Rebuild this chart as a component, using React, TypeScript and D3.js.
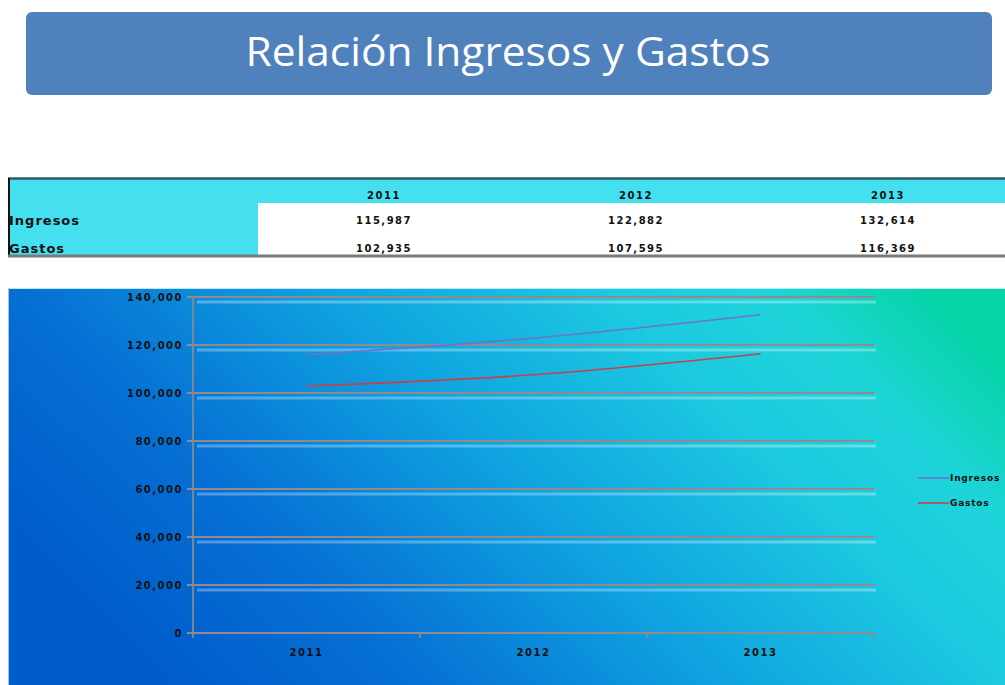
import * as d3 from "d3";

const years = ["2011", "2012", "2013"];
const ingresos = [115987, 122882, 132614];
const gastos = [102935, 107595, 116369];
const yTicks = [0, 20000, 40000, 60000, 80000, 100000, 120000, 140000];

const series = [
  { name: "Ingresos", values: ingresos, color: "#6a74c8" },
  { name: "Gastos", values: gastos, color: "#c8404a" },
];

const fmt = d3.format(",");
const W = 1005;
const H = 685;

// plot area inside the chart block
const plot = { left: 193, right: 874, top: 297, bottom: 633 };

export default function App() {
  const x = d3.scaleBand().domain(years).range([plot.left, plot.right]);
  const y = d3.scaleLinear().domain([0, 140000]).range([plot.bottom, plot.top]);

  const line = d3
    .line<number>()
    .x((_, i) => (x(years[i]) as number) + x.bandwidth() / 2)
    .y((d) => y(d))
    .curve(d3.curveMonotoneX);

  // table columns
  const col = d3.scaleBand().domain(years).range([258, 1014]);

  const smallFont = {
    fontFamily: "DejaVu Sans",
    fontWeight: 700,
    fontSize: 10,
    letterSpacing: 1.5,
  } as const;

  return (
    <svg
      width={W}
      height={H}
      style={{ position: "absolute", left: 0, top: 0, background: "#fff" }}
    >
      <defs>
        <linearGradient id="bg" x1="0" y1="0.6" x2="1" y2="0.2">
          <stop offset="0" stopColor="#005ccb" />
          <stop offset="0.22" stopColor="#0670d4" />
          <stop offset="0.48" stopColor="#0fa2e0" />
          <stop offset="0.72" stopColor="#1cc9e0" />
          <stop offset="0.86" stopColor="#1ed4da" />
          <stop offset="1" stopColor="#06d4a6" />
        </linearGradient>
      </defs>

      {/* title */}
      <rect x={26} y={12} width={966} height={83} rx={6} fill="#4f81bd" />
      <text
        x={508}
        y={66}
        textAnchor="middle"
        fill="#fff"
        fontFamily="Open Sans"
        fontSize={40}
        textLength={525}
        lengthAdjust="spacingAndGlyphs"
      >
        Relación Ingresos y Gastos
      </text>

      {/* table */}
      <rect x={8} y={179} width={W - 8} height={77} fill="#45e0f0" />
      <rect x={258} y={203} width={W - 258} height={52} fill="#fff" />
      <line x1={8} x2={W} y1={178.5} y2={178.5} stroke="#2c5f66" strokeWidth={2.5} />
      <line x1={9} x2={9} y1={178} y2={257} stroke="#111" strokeWidth={2} />
      <line x1={8} x2={W} y1={256} y2={256} stroke="#7a7a7a" strokeWidth={3} />
      {years.map((yr, i) => {
        const cx = (col(yr) as number) + col.bandwidth() / 2;
        return (
          <g key={yr} {...smallFont} textAnchor="middle" fill="#111">
            <text x={cx} y={199}>{yr}</text>
            <text x={cx} y={224}>{fmt(ingresos[i])}</text>
            <text x={cx} y={252}>{fmt(gastos[i])}</text>
          </g>
        );
      })}
      <g fontFamily="DejaVu Sans" fontWeight={700} fontSize={13} letterSpacing={1} fill="#111">
        <text x={9} y={225}>Ingresos</text>
        <text x={9} y={253}>Gastos</text>
      </g>

      {/* chart block */}
      <rect x={8} y={288} width={W - 8} height={H - 288} fill="url(#bg)" />
      <line x1={8} x2={W} y1={288.5} y2={288.5} stroke="#bfe8f5" strokeWidth={1} />
      <line x1={8.5} x2={8.5} y1={288} y2={H} stroke="#9cc4f0" strokeWidth={1} />

      {/* gridlines and highlights */}
      {yTicks.map((t) => (
        <g key={t}>
          {t > 0 && (
            <line
              x1={plot.left + 4}
              x2={plot.right + 2}
              y1={y(t) + 5}
              y2={y(t) + 5}
              stroke="#ffffff"
              strokeOpacity={0.3}
              strokeWidth={3}
            />
          )}
          <line
            x1={plot.left - 6}
            x2={plot.right}
            y1={y(t)}
            y2={y(t)}
            stroke="#928a8e"
            strokeWidth={1.8}
          />
          <text
            x={183}
            y={y(t) + 3.5}
            textAnchor="end"
            {...smallFont}
            fill="#111"
          >
            {fmt(t)}
          </text>
        </g>
      ))}

      {/* axes */}
      <line x1={plot.left} x2={plot.left} y1={plot.top} y2={plot.bottom + 5} stroke="#8a8a8a" strokeWidth={1.8} />
      {years.map((yr) => (
        <line
          key={"t" + yr}
          x1={(x(yr) as number) + x.bandwidth()}
          x2={(x(yr) as number) + x.bandwidth()}
          y1={plot.bottom}
          y2={plot.bottom + 5}
          stroke="#8a8a8a"
          strokeWidth={1.8}
        />
      ))}
      {years.map((yr) => (
        <text
          key={"l" + yr}
          x={(x(yr) as number) + x.bandwidth() / 2}
          y={656}
          textAnchor="middle"
          {...smallFont}
          fill="#111"
        >
          {yr}
        </text>
      ))}

      {/* series */}
      {series.map((s) => (
        <path
          key={s.name}
          d={line(s.values) as string}
          fill="none"
          stroke={s.color}
          strokeWidth={1.6}
        />
      ))}

      {/* legend */}
      {series.map((s, i) => (
        <g key={"lg" + s.name} transform={`translate(918, ${478 + i * 25})`}>
          <line x1={0} x2={31} y1={0} y2={0} stroke={s.color} strokeWidth={1.6} />
          <text x={32} y={3} fontFamily="DejaVu Sans" fontWeight={700} fontSize={9} letterSpacing={0.8} fill="#111">
            {s.name}
          </text>
        </g>
      ))}
    </svg>
  );
}
